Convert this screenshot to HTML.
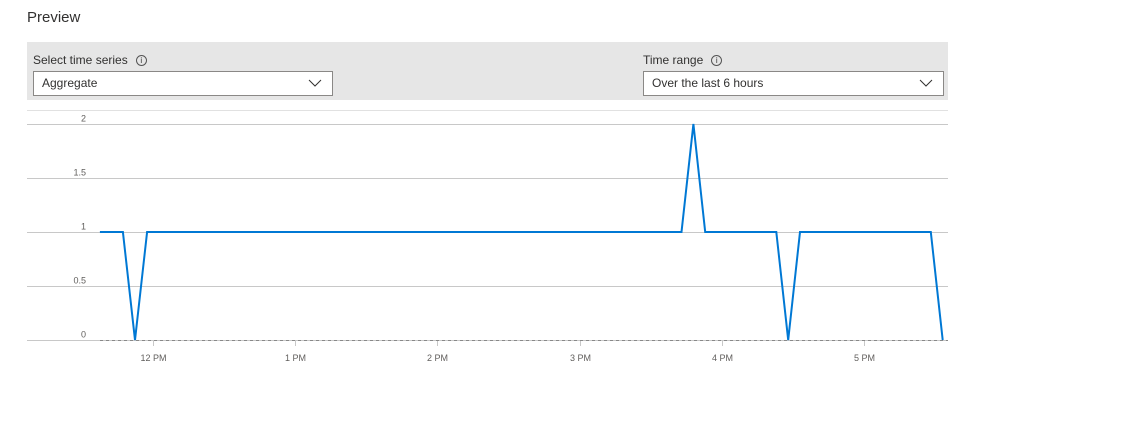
<!DOCTYPE html>
<html><head><meta charset="utf-8">
<style>
body{margin:0;width:1144px;height:425px;background:#fff;font-family:"Liberation Sans",sans-serif;color:#323130;position:relative;overflow:hidden}
.title{position:absolute;left:27px;top:9px;font-size:15px}
.panel{position:absolute;left:27px;top:42px;width:921px;height:58px;background:#e6e6e6}
.lbl{position:absolute;top:11px;font-size:12px}
.info{display:inline-block;width:9px;height:9px;border:1px solid #555;border-radius:50%;font-size:8px;line-height:9px;text-align:center;margin-left:8px;vertical-align:1px}
.dd{position:absolute;top:29px;background:#fff;border:1px solid #8a8886;font-size:12px;line-height:23px;padding-left:8px;box-sizing:border-box;height:25px}
.dd svg{position:absolute;right:10px;top:7px}
</style></head><body>
<div class="title">Preview</div>
<div class="panel">
 <div class="lbl" style="left:6px">Select time series<span class="info">i</span></div>
 <div class="dd" style="left:6px;width:300px">Aggregate<svg width="14" height="8"><path d="M1 1l6 6 6-6" stroke="#323130" fill="none"/></svg></div>
 <div class="lbl" style="left:616px">Time range<span class="info">i</span></div>
 <div class="dd" style="left:616px;width:301px">Over the last 6 hours<svg width="14" height="8"><path d="M1 1l6 6 6-6" stroke="#323130" fill="none"/></svg></div>
</div>
<svg id="chart" width="1144" height="425" style="position:absolute;left:0;top:0"></svg>
<script>
const yTicks=[0,0.5,1,1.5,2];
const yTickLabels=["0","0.5","1","1.5","2"];
const xTickMinutes=[0,60,120,180,240,300];
const xTickLabels=["12 PM","1 PM","2 PM","3 PM","4 PM","5 PM"];
const timesMin=[-22.4,-12.7,-7.6,-2.5,223,228,233,263,268,273,328.2,333.2];
const values=[1,1,0,1,1,2,1,1,0,1,1,0];
const NS="http://www.w3.org/2000/svg";
const svg=document.getElementById('chart');
const xS=m=>153+m*142.2/60;
const yS=v=>340-v*108;
function mk(t,a){const e=document.createElementNS(NS,t);for(const k in a)e.setAttribute(k,a[k]);svg.appendChild(e);return e;}
const topBorder=mk('line',{x1:27,x2:948,y1:110.5,y2:110.5,stroke:'#e1e1e1'});


yTicks.forEach((v,i)=>{
 const y=Math.round(yS(v))+0.5;
 const g=mk('line',{x1:27,x2:948,y1:y,y2:y,stroke:'#c8c8c8'});
 
 
 const t=mk('text',{x:86,y:y-3,'text-anchor':'end','font-size':9,fill:'#605e5c','font-family':'Liberation Sans, sans-serif'});
 t.textContent=yTickLabels[i];
 
 
});
const d=mk('line',{x1:100,x2:948,y1:340.5,y2:340.5,stroke:'#888','stroke-dasharray':'3,3'});


xTickMinutes.forEach((m,i)=>{
 const x=Math.round(xS(m))+0.5;
 const tk=mk('line',{x1:x,x2:x,y1:341,y2:346,stroke:'#c8c8c8'});
 
 
 const t=mk('text',{x:x,y:361,'text-anchor':'middle','font-size':9,fill:'#605e5c','font-family':'Liberation Sans, sans-serif'});
 t.textContent=xTickLabels[i];
 
 
});
const pts=timesMin.map((m,i)=>xS(m).toFixed(1)+','+yS(values[i]).toFixed(1)).join(' ');
const pl=mk('polyline',{points:pts,fill:'none',stroke:'#0078d4','stroke-width':2,'stroke-linejoin':'miter'});


</script>
</body></html>
